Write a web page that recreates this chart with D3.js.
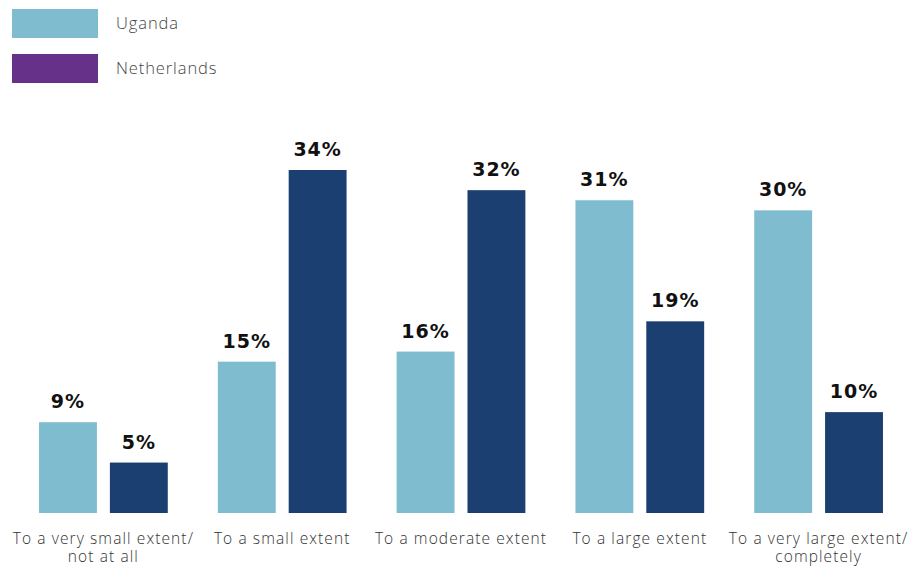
<!DOCTYPE html>
<html>
<head>
<meta charset="utf-8">
<script src="https://cdn.jsdelivr.net/npm/d3@7"></script>
<style>
  html, body { margin: 0; padding: 0; background: #fff; }
  svg { display: block; font-family: "Open Sans", Lato, sans-serif; }
</style>
</head>
<body>
<svg id="chart" width="912" height="566"></svg>
<script>
// Survey responses by extent, per country (percent)
const categories = [
  ["To a very small extent/", "not at all"],
  ["To a small extent"],
  ["To a moderate extent"],
  ["To a large extent"],
  ["To a very large extent/", "completely"]
];
const seriesNames = ["Uganda", "Netherlands"];
const ugandaValues = [9, 15, 16, 31, 30];
const netherlandsValues = [5, 34, 32, 19, 10];

const barColors = { Uganda: "#7fbccf", Netherlands: "#1a3f70" };
const legendColors = { Uganda: "#7fbccf", Netherlands: "#653189" };

const svg = d3.select("#chart");
const baseline = 513;

const rows = categories.map((c, i) => ({
  key: c.join(" "),
  lines: c,
  values: [
    { series: "Uganda", value: ugandaValues[i] },
    { series: "Netherlands", value: netherlandsValues[i] }
  ]
}));

const x0 = d3.scaleBand()
  .domain(rows.map(d => d.key))
  .range([14, 908])
  .paddingInner(0.28)
  .paddingOuter(0.14);

const x1 = d3.scaleBand()
  .domain(seriesNames)
  .range([0, x0.bandwidth()])
  .paddingInner(0.183)
  .paddingOuter(0);

const y = d3.scaleLinear()
  .domain([0, 34])
  .range([baseline, 170]);

// Bars
const groups = svg.append("g").selectAll("g")
  .data(rows)
  .join("g")
  .attr("transform", d => `translate(${x0(d.key)},0)`);

groups.selectAll("rect")
  .data(d => d.values)
  .join("rect")
  .attr("x", d => x1(d.series))
  .attr("y", d => y(d.value))
  .attr("width", x1.bandwidth())
  .attr("height", d => baseline - y(d.value))
  .attr("fill", d => barColors[d.series]);

// Value labels
groups.selectAll("text.value")
  .data(d => d.values)
  .join("text")
  .attr("class", "value")
  .attr("x", d => x1(d.series) + x1.bandwidth() / 2)
  .attr("y", d => y(d.value) - 14)
  .attr("text-anchor", "middle")
  .attr("font-family", "'DejaVu Sans', sans-serif")
  .attr("font-size", 19)
  .attr("font-weight", 700)
  .attr("letter-spacing", 1)
  .attr("fill", "#111")
  .text(d => d.value + "%");

// Category axis labels (one text element per line)
const xAxis = svg.append("g");
const labelLines = rows.flatMap(r =>
  r.lines.map((line, i) => ({ key: r.key, line, i }))
);
xAxis.selectAll("text")
  .data(labelLines)
  .join("text")
  .attr("x", d => x0(d.key) + x0.bandwidth() / 2)
  .attr("y", d => 544 + d.i * 17.5)
  .attr("text-anchor", "middle")
  .attr("font-size", 15.5)
  .attr("font-weight", 300)
  .attr("letter-spacing", 1.1)
  .attr("fill", "#333")
  .text(d => d.line);

// Legend
const legend = svg.append("g").selectAll("g")
  .data(seriesNames)
  .join("g")
  .attr("transform", (d, i) => `translate(12,${9 + i * 45})`);

legend.append("rect")
  .attr("width", 86)
  .attr("height", 29)
  .attr("fill", d => legendColors[d]);

legend.append("text")
  .attr("x", 104)
  .attr("y", 20)
  .attr("font-size", 16.5)
  .attr("font-weight", 300)
  .attr("letter-spacing", 0.9)
  .attr("fill", "#444")
  .text(d => d);
</script>
</body>
</html>
